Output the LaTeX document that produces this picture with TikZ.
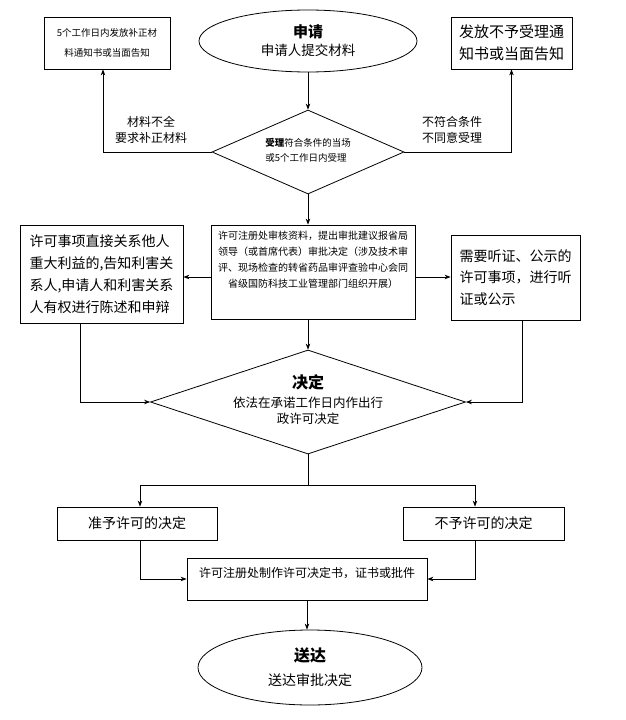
\documentclass[tikz,border=0pt]{standalone}
\usepackage{fontspec}
\setmainfont{Noto Sans CJK SC}
\usepackage{tikz}
\usetikzlibrary{arrows.meta, shapes.geometric, positioning, calc}
\usepackage{xcolor}
\newcommand{\fs}[2]{\fontsize{#1}{#2}\selectfont}

\begin{document}
\begin{tikzpicture}[x=1pt, y=-1pt,
    box/.style={draw, line width=0.8pt, inner sep=0pt},
    arr/.style={-{Stealth[length=6pt, width=4.5pt]}, line width=0.8pt},
    link/.style={line width=0.8pt}]
  \useasboundingbox (0,0) rectangle (626,720);
  % application
  \node[ellipse, box, minimum width=218, minimum height=62, align=center,
        font=\fs{13.5}{18}] (apply) at (308,41) {{\fs{15}{18}\bfseries 申请}\\申请人提交材料};
  \node[box, minimum width=126, minimum height=52, align=center,
        font=\fs{9.5}{20}] (notify) at (107,43) {5个工作日内发放补正材\\料通知书或当面告知};
  \node[box, minimum width=121, minimum height=52, align=center,
        font=\fs{15}{22}] (refuse) at (511.5,43) {发放不予受理通\\知书或当面告知};
  \node[diamond, box, minimum width=192, minimum height=84] (check) at (308,152) {};
  \node[align=left, font=\fs{9.5}{15}] (checktext) at (308,150) {{\bfseries 受理}符合条件的当场\\或5个工作日内受理};
  \draw[arr] (apply.south) -- (check.north);
  \draw[arr] (check.west) -| ([xshift=-4]notify.south);
  \draw[arr] (check.east) -| (refuse.south);
  \node[font=\fs{12}{16}, align=center] (lack) at (151,130) {材料不全\\要求补正材料};
  \node[font=\fs{12}{16}, align=center] (unfit) at (452,130) {不符合条件\\不同意受理};

  % review
  \node[box, minimum width=204, minimum height=94] (review) at (313,272) {};
  \node[anchor=north, align=center, font=\fs{10}{16}] (reviewtext) at ([yshift=-3]review.north)
        {许可注册处审核资料，提出审批建议报省局\\领导（或首席代表）审批决定（涉及技术审\\评、现场检查的转省药品审评查验中心会同\\省级国防科技工业管理部门组织开展）};
  \node[box, minimum width=163, minimum height=98, align=left,
        font=\fs{14}{22}] (interest) at (101.5,274) {许可事项直接关系他人\\重大利益的,告知利害关\\系人,申请人和利害关系\\人有权进行陈述和申辩};
  \node[box, minimum width=129, minimum height=85, align=left,
        font=\fs{14}{21.5}] (hearing) at (515.5,277.5) {需要听证、公示的\\许可事项，进行听\\证或公示};
  \draw[arr] (check.south) -- (check.south |- review.north);
  \draw[arr] ([yshift=-5]review.west) -- ([yshift=-5]review.west -| interest.east);
  \draw[arr] ([yshift=-5]review.east) -- ([yshift=-5]review.east -| hearing.west);

  % decision
  \node[diamond, box, minimum width=315, minimum height=104] (decide) at (308,402) {};
  \node[align=center, font=\fs{12.5}{16}] (decidetext) at (308,400)
        {{\fs{16}{19}\bfseries 决定}\\[3pt]依法在承诺工作日内作出行\\政许可决定};
  \draw[arr] (review.south -| decide.north) -- (decide.north);
  \draw[arr] ([xshift=-21.5]interest.south) |- (decide.west);
  \draw[arr] ([xshift=6.5]hearing.south) |- (decide.east);

  \node[box, minimum width=160, minimum height=33, font=\fs{14}{17}] (grant) at (137,523.5) {准予许可的决定};
  \node[box, minimum width=161, minimum height=33, font=\fs{14}{17}] (deny) at (483.5,523.5) {不予许可的决定};
  \coordinate (split) at (308,485);
  \draw[link] (decide.south) -- (split);
  \draw[arr] (split) -| ([xshift=3]grant.north);
  \draw[arr] (split) -| ([xshift=-8.5]deny.north);

  % certificate and delivery
  \node[box, minimum width=240, minimum height=42] (issue) at (307,579) {};
  \node[font=\fs{12}{15}] (issuetext) at (307,573) {许可注册处制作许可决定书，证书或批件};
  \draw[arr] ([xshift=3]grant.south) |- (issue.west);
  \draw[arr] ([xshift=-8.5]deny.south) |- (issue.east);
  \node[ellipse, box, minimum width=224, minimum height=75, align=center,
        font=\fs{14}{24}] (deliver) at (310,667.5) {{\fs{16}{19}\bfseries 送达}\\送达审批决定};
  \draw[arr] (issue.south) -- (issue.south |- deliver.north);
\end{tikzpicture}
\end{document}
